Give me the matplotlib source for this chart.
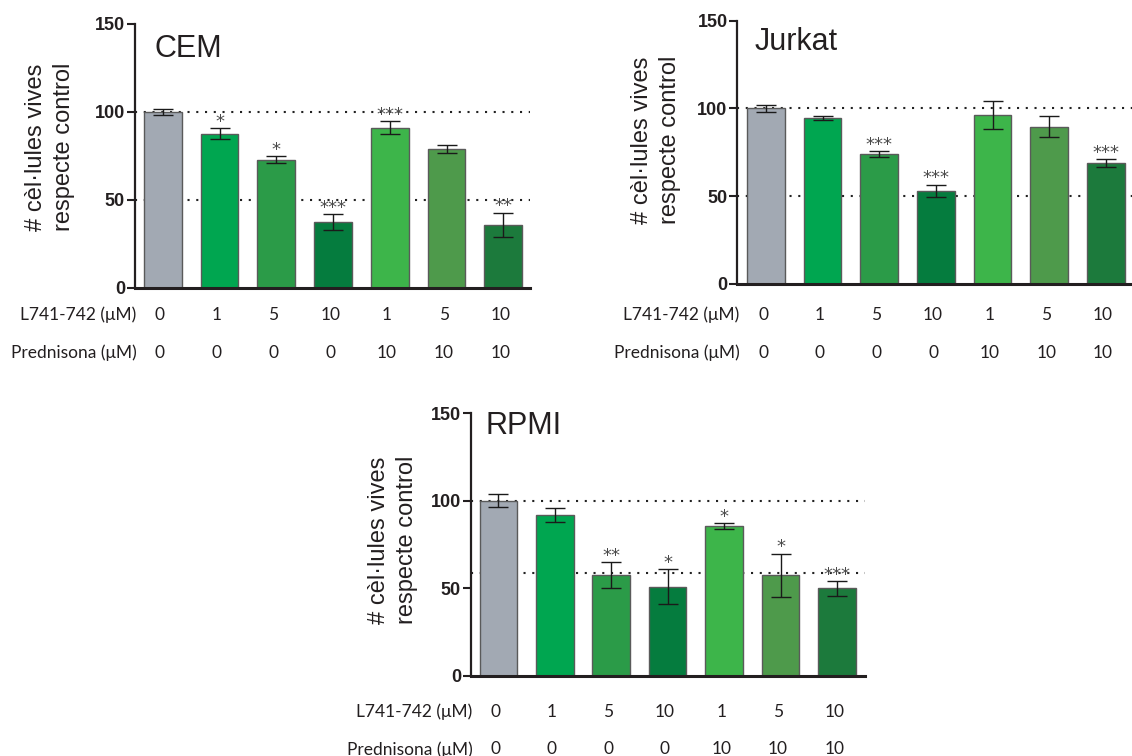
import matplotlib
matplotlib.use("Agg")
import matplotlib.pyplot as plt
import matplotlib.transforms as mtransforms
import numpy as np

# ---------------- data ----------------
l741_doses = ["0", "1", "5", "10", "1", "5", "10"]
pred_doses = ["0", "0", "0", "0", "10", "10", "10"]

cem_mean = [100.0, 87.7, 72.9, 37.5, 91.1, 79.0, 35.8]
cem_err = [1.5, 3.0, 2.0, 4.5, 3.7, 2.2, 7.0]
cem_stars = ["", "*", "*", "***", "***", "", "**"]
cem_ref = [100, 50]

jurkat_mean = [100.0, 94.6, 74.0, 53.0, 96.2, 89.4, 68.9]
jurkat_err = [1.9, 1.2, 1.6, 3.5, 7.8, 6.0, 2.3]
jurkat_stars = ["", "", "***", "***", "", "", "***"]
jurkat_ref = [100, 50]

rpmi_mean = [100.0, 92.1, 57.6, 51.0, 85.6, 57.4, 50.0]
rpmi_err = [3.7, 4.0, 7.5, 10.1, 1.7, 12.5, 4.3]
rpmi_stars = ["", "", "**", "*", "*", "*", "***"]
rpmi_ref = [100, 59]

bar_colors = ["#a2a9b3", "#00a650", "#2b9b48", "#057c3e", "#3db54a", "#4e9a4b", "#1c7a3c"]

ylabel_text = "# cèl·lules vives\nrespecte control"
row1_label = "L741-742 (μM)"
row2_label = "Prednisona (μM)"

# ---------------- figure ----------------
W, H = 1132, 756
fig = plt.figure(figsize=(W / 100, H / 100), dpi=100)

TXT = "#231f20"
SANS = ["Liberation Sans", "DejaVu Sans"]


def px2fig(x, y):
    return x / W, 1 - y / H


def panel(title, means, errs, stars, refs, left, right, top, bottom, xlim,
          ylab_xy, title_xy, rows_y):
    l, b = px2fig(left, bottom)
    r, t = px2fig(right, top)
    ax = fig.add_axes([l, b, r - l, t - b])
    x = np.arange(len(means))
    for yv in refs:
        ax.axhline(yv, color="#222222", lw=1.5, ls=(0, (1, 3.2)), zorder=1)
    ax.bar(x, means, width=0.665, color=bar_colors, edgecolor="#5a5a5a",
           linewidth=1.0, zorder=2)
    ax.errorbar(x, means, yerr=errs, fmt="none", ecolor="#1a1a1a",
                elinewidth=1.0, capsize=7, capthick=1.0, zorder=3)
    for xi, m, e, s in zip(x, means, errs, stars):
        if s:
            ax.annotate(s, (xi, m + e), xytext=(0, 1.0), textcoords="offset points",
                        ha="center", va="baseline", fontsize=13,
                        color="#4a4a4a", family="DejaVu Sans", zorder=4)
    ax.set_xlim(*xlim)
    ax.set_ylim(0, 150)
    ax.set_yticks([0, 50, 100, 150])
    ax.set_xticks([])
    for lab in ax.get_yticklabels():
        lab.set_fontweight("bold")
        lab.set_family(SANS)
        lab.set_fontsize(13)
        lab.set_color(TXT)
    ax.tick_params(axis="y", length=6, width=1.5, color=TXT, pad=1)
    for sp in ["top", "right"]:
        ax.spines[sp].set_visible(False)
    ax.spines["left"].set_linewidth(1.6)
    ax.spines["bottom"].set_linewidth(2.2)
    ax.spines["left"].set_color(TXT)
    ax.spines["bottom"].set_color(TXT)
    ax.patch.set_alpha(0)

    # title
    tx, ty = px2fig(*title_xy)
    fig.text(tx, ty, title, fontsize=22, family=SANS, color=TXT,
             ha="left", va="baseline")
    # y label
    yx, yy = px2fig(*ylab_xy)
    fig.text(yx, yy, ylabel_text, rotation=90, ha="center", va="center",
             fontsize=17, family=SANS, color=TXT, multialignment="center",
             linespacing=1.3)
    # dose table
    trans = mtransforms.blended_transform_factory(ax.transData, fig.transFigure)
    lx, _ = px2fig(left + 2, 0)
    for row_lab, vals, ry in [(row1_label, l741_doses, rows_y[0]),
                              (row2_label, pred_doses, rows_y[1])]:
        _, fy = px2fig(0, ry)
        fig.text(lx, fy, row_lab, ha="right", va="center", fontsize=12.5,
                 family=["Lato", "DejaVu Sans"], color=TXT)
        for xi, v in zip(x, vals):
            ax.text(xi - 0.05, fy, v, transform=trans, ha="center", va="center",
                    fontsize=12.5, family=["Lato", "DejaVu Sans"], color=TXT)
    return ax


panel("CEM", cem_mean, cem_err, cem_stars, cem_ref,
      left=134.7, right=530, top=24, bottom=288, xlim=(-0.495, 6.47),
      ylab_xy=(50, 147), title_xy=(154, 57), rows_y=(315, 353))

panel("Jurkat", jurkat_mean, jurkat_err, jurkat_stars, jurkat_ref,
      left=737.3, right=1132, top=20.5, bottom=284, xlim=(-0.506, 6.46),
      ylab_xy=(656, 140), title_xy=(755, 50), rows_y=(315, 353))

panel("RPMI", rpmi_mean, rpmi_err, rpmi_stars, rpmi_ref,
      left=470.7, right=864.6, top=413.3, bottom=676, xlim=(-0.49, 6.49),
      ylab_xy=(393, 540), title_xy=(486, 434), rows_y=(711.7, 749.5))

fig.savefig("out.png", dpi=100)
